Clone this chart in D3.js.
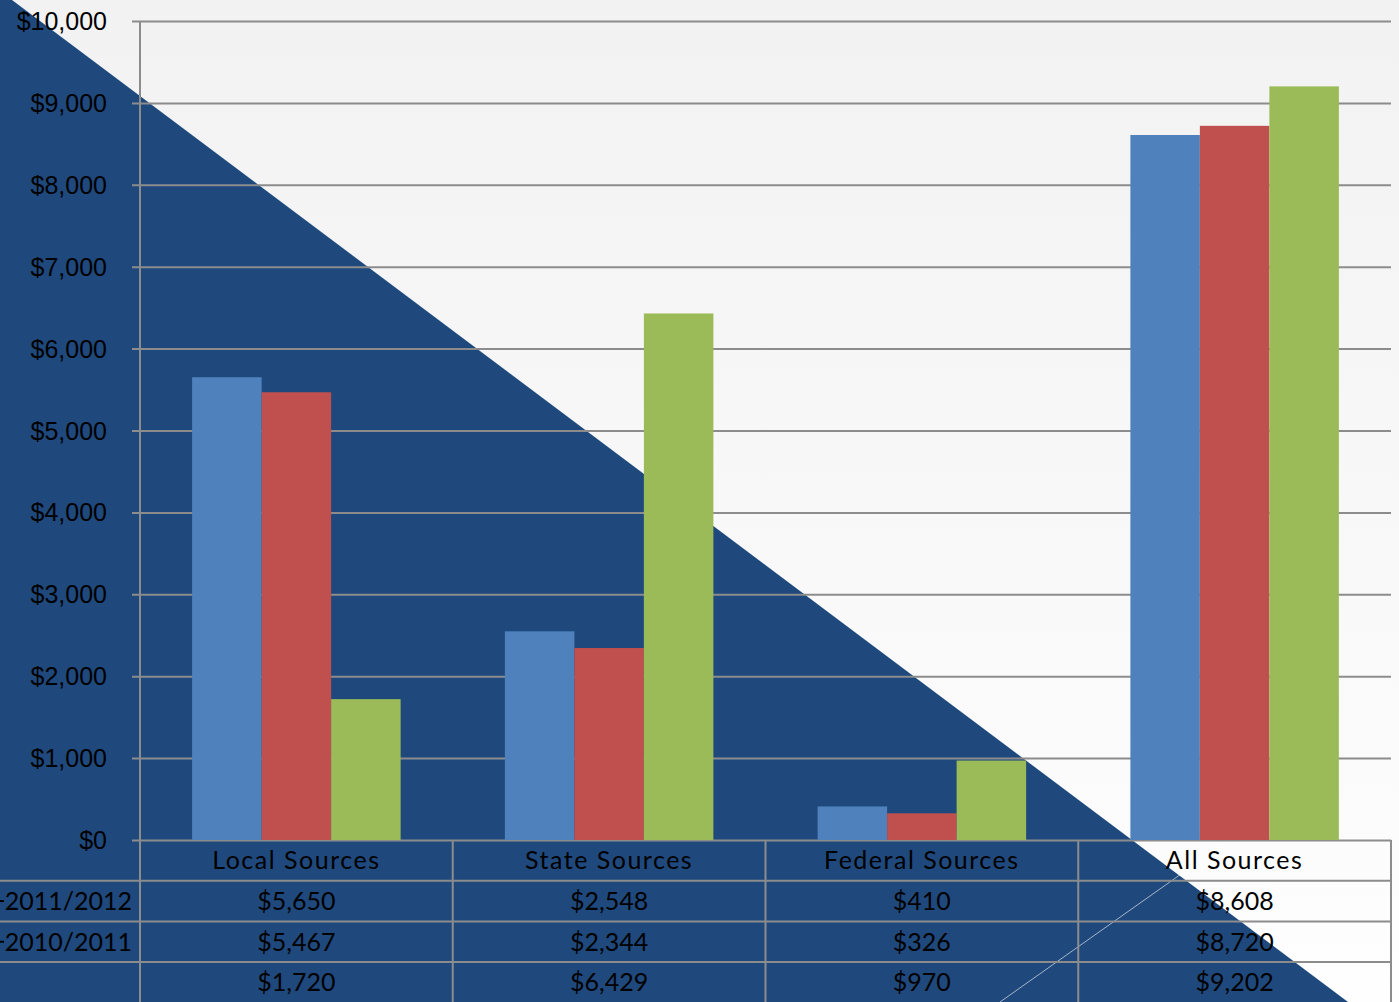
<!DOCTYPE html>
<html>
<head>
<meta charset="utf-8">
<script src="https://cdn.jsdelivr.net/npm/d3@7"></script>
<style>
  html, body { margin: 0; padding: 0; background: #f4f4f4; overflow: hidden; }
  svg { display: block; font-family: Lato, "Open Sans", sans-serif; }
</style>
</head>
<body>
<svg id="chart" width="1399" height="1002"></svg>
<script>
// ---- data ----
const categories = ["Local Sources", "State Sources", "Federal Sources", "All Sources"];
const seriesNames = ["2011/2012", "2010/2011", ""];
const series2011_2012 = [5650, 2548, 410, 8608];
const series2010_2011 = [5467, 2344, 326, 8720];
const seriesThird = [1720, 6429, 970, 9202];
const seriesColors = ["#4f81bd", "#c0504d", "#9bbb59"];
const yTickValues = [0, 1000, 2000, 3000, 4000, 5000, 6000, 7000, 8000, 9000, 10000];

const allSeries = [series2011_2012, series2010_2011, seriesThird];

// ---- layout ----
const W = 1399, H = 1002;
const plotLeft = 140, plotRight = 1391, plotTop = 21, plotBottom = 840;
const rowH = 40.7;
const gridColor = "#8c8c8c";

const svg = d3.select("#chart");

// background gradient
const defs = svg.append("defs");
const grad = defs.append("linearGradient").attr("id", "bg").attr("x1", 0).attr("y1", 0).attr("x2", 0).attr("y2", 1);
grad.append("stop").attr("offset", "0%").attr("stop-color", "#f2f2f2");
grad.append("stop").attr("offset", "100%").attr("stop-color", "#fefefe");
svg.append("rect").attr("width", W).attr("height", H).attr("fill", "url(#bg)");

// dark blue triangle
svg.append("path")
  .attr("d", `M0,0 L12,0 L1348,${H} L0,${H} Z`)
  .attr("fill", "#1f497d");

// faint diagonal line
svg.append("line")
  .attr("x1", 1000).attr("y1", H).attr("x2", 1225).attr("y2", 843)
  .attr("stroke", "#ffffff").attr("stroke-opacity", 0.6).attr("stroke-width", 1);

// scales
const x = d3.scaleBand().domain(categories).range([plotLeft, plotRight]).paddingInner(0).paddingOuter(0);
const xs = d3.scaleBand().domain(d3.range(allSeries.length)).range([0, x.bandwidth()]).paddingInner(0).paddingOuter(0.75);
const y = d3.scaleLinear().domain([0, 10000]).range([plotBottom, plotTop]);

// gridlines + y labels
const yAxis = d3.axisLeft(y)
  .tickValues(yTickValues)
  .tickSize(-(plotRight - (plotLeft - 8)))
  .tickPadding(25)
  .tickFormat(d => "$" + d3.format(",")(d));
const gy = svg.append("g").attr("transform", `translate(${plotLeft - 8},0)`).call(yAxis);
gy.select(".domain").remove();
gy.selectAll(".tick line").attr("stroke", gridColor).attr("stroke-width", 2);
gy.selectAll(".tick text").attr("fill", "#000").attr("font-size", 25).attr("dy", "0.34em");

// bars
const groups = svg.append("g").selectAll("g")
  .data(allSeries)
  .join("g")
  .attr("fill", (d, i) => seriesColors[i]);
groups.selectAll("rect")
  .data((d, i) => d.map((v, j) => ({ v, cat: categories[j], s: i })))
  .join("rect")
  .attr("x", d => x(d.cat) + xs(d.s))
  .attr("width", xs.bandwidth())
  .attr("y", d => y(d.v))
  .attr("height", d => y(0) - y(d.v));

// table lines
const tbl = svg.append("g").attr("stroke", gridColor).attr("stroke-width", 2);
// y axis vertical line extends through table
tbl.append("line").attr("x1", plotLeft).attr("x2", plotLeft).attr("y1", plotTop).attr("y2", H);
// vertical separators
categories.forEach((c, i) => {
  if (i === 0) return;
  tbl.append("line").attr("x1", x(c)).attr("x2", x(c)).attr("y1", plotBottom).attr("y2", H);
});
tbl.append("line").attr("x1", plotRight).attr("x2", plotRight).attr("y1", plotBottom).attr("y2", H);
// horizontal row lines
for (let r = 1; r <= 3; r++) {
  const yy = plotBottom + r * rowH;
  tbl.append("line").attr("x1", 0).attr("x2", plotRight).attr("y1", yy).attr("y2", yy);
}

// table text
const tt = svg.append("g").attr("font-size", 25).attr("fill", "#000").attr("text-anchor", "middle");
categories.forEach((c) => {
  tt.append("text")
    .attr("x", x(c) + x.bandwidth() / 2)
    .attr("y", plotBottom + rowH / 2)
    .attr("dy", "0.35em")
    .attr("letter-spacing", 1.5)
    .text(c);
});
allSeries.forEach((s, i) => {
  s.forEach((v, j) => {
    tt.append("text")
      .attr("x", x(categories[j]) + x.bandwidth() / 2)
      .attr("y", plotBottom + rowH * (i + 1) + rowH / 2)
      .attr("dy", "0.35em")
      .text("$" + d3.format(",")(v));
  });
  if (seriesNames[i]) {
    tt.append("text")
      .attr("x", 132)
      .attr("y", plotBottom + rowH * (i + 1) + rowH / 2)
      .attr("dy", "0.35em")
      .attr("text-anchor", "end")
      .text(seriesNames[i]);
    svg.append("line")
      .attr("x1", 0).attr("x2", 4)
      .attr("y1", plotBottom + rowH * (i + 1) + rowH / 2)
      .attr("y2", plotBottom + rowH * (i + 1) + rowH / 2)
      .attr("stroke", "#000").attr("stroke-width", 2);
  }
});
</script>
</body>
</html>
